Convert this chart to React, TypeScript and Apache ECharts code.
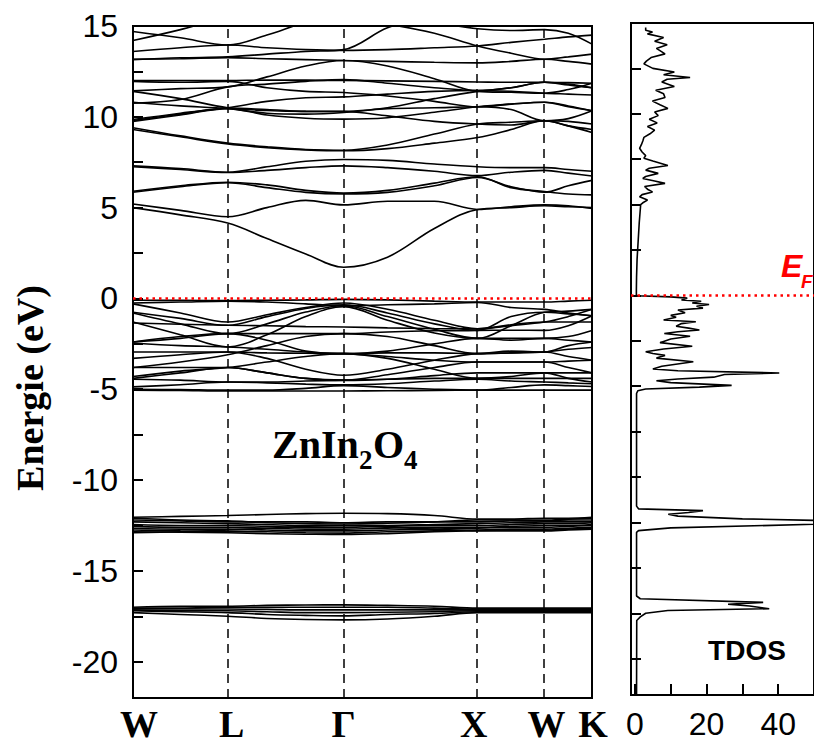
import React, { useEffect, useRef } from 'react';
import * as echarts from 'echarts';

// High-symmetry points along the FCC path (k-distance in units of 2π/a)
const kPoints = [0, 0.707, 1.573, 2.573, 3.073, 3.427];
const kNames = ['W', 'L', 'Γ', 'X', 'W', 'K'];
// k positions at which band energies are tabulated
const kSamples = [0, 0.354, 0.707, 1.0, 1.29, 1.573, 1.9, 2.25, 2.573, 2.823, 3.073, 3.25, 3.427];

// Conduction bands (eV)
const conductionBands = [
  [5.0, 4.6, 4.15, 3.3, 2.45, 1.72, 2.27, 3.85, 4.9, 5.0, 5.1, 5.05, 5.0],
  [5.2, 4.85, 4.5, 5.0, 5.4, 5.15, 5.35, 5.35, 4.9, 5.05, 5.15, 5.1, 4.95],
  [5.85, 6.15, 6.37, 6.1, 5.84, 5.75, 5.84, 6.2, 6.66, 6.15, 5.85, 6.2, 6.5],
  [5.9, 6.2, 6.4, 6.25, 5.95, 5.8, 5.95, 6.35, 6.7, 6.1, 5.88, 5.75, 5.7],
  [7.25, 7.1, 6.93, 7.05, 7.2, 7.3, 7.2, 7.0, 6.76, 6.95, 7.05, 6.9, 6.74],
  [7.3, 7.15, 6.95, 7.25, 7.55, 7.65, 7.6, 7.4, 7.25, 7.2, 7.2, 7.1, 7.0],
  [9.3, 8.9, 8.5, 8.3, 8.18, 8.13, 8.25, 8.55, 8.86, 9.3, 9.78, 9.5, 9.14],
  [9.4, 8.95, 8.55, 8.35, 8.2, 8.16, 8.45, 9.05, 9.6, 9.7, 9.78, 9.75, 9.6],
  [9.75, 10.1, 10.45, 10.1, 9.92, 9.87, 9.95, 10.25, 10.55, 10.7, 10.8, 10.6, 10.33],
  [9.8, 10.15, 10.48, 10.4, 10.3, 10.29, 10.05, 9.75, 9.6, 9.55, 9.78, 9.5, 9.3],
  [9.85, 10.2, 10.5, 10.85, 11.05, 11.1, 11.25, 11.4, 11.45, 11.4, 11.3, 11.25, 11.2],
  [10.8, 10.6, 10.45, 10.2, 10.15, 10.24, 10.5, 11.0, 11.4, 11.6, 11.9, 11.8, 11.6],
  [11.43, 11.55, 11.65, 12.2, 12.8, 13.1, 12.8, 12.1, 11.4, 11.35, 11.3, 11.5, 11.85],
  [12.0, 12.0, 12.0, 12.02, 12.02, 12.0, 11.98, 11.95, 11.92, 11.9, 11.9, 11.88, 11.85],
  [11.95, 11.9, 11.95, 11.6, 11.4, 11.34, 11.15, 10.85, 10.55, 10.7, 10.8, 10.55, 10.33],
  [13.17, 13.2, 13.26, 13.2, 13.15, 13.1, 13.05, 13.0, 12.97, 13.05, 13.17, 13.05, 12.9],
  [13.6, 13.8, 13.95, 13.8, 13.7, 13.66, 13.7, 13.8, 13.9, 14.1, 14.27, 14.4, 14.5],
  [14.2, 14.8, 15.5, 15.8, 15.6, 15.4, 15.1, 14.6, 13.9, 13.5, 13.17, 13.3, 13.45],
  [14.7, 14.35, 13.95, 14.5, 15.2, 15.6, 15.5, 15.2, 14.85, 14.75, 14.8, 14.6, 14.0],
  [13.15, 13.25, 13.3, 13.45, 13.6, 13.7, 14.9, 15.6, 16.0, 16.0, 16.0, 16.0, 16.0],
  [10.75, 10.95, 11.65, 11.8, 11.95, 12.05, 11.85, 11.6, 11.45, 11.6, 11.9, 11.75, 11.6],
  [11.4, 11.0, 10.5, 10.35, 10.3, 10.3, 10.45, 10.5, 10.55, 10.4, 9.78, 9.9, 10.33],
];

// Upper valence bands (O 2p), eV
const valenceBands = [
  [-0.1, -0.1, -0.12, -0.1, -0.08, -0.05, -0.08, -0.15, -0.2, -0.2, -0.2, -0.15, -0.1],
  [-0.3, -0.8, -1.3, -0.9, -0.5, -0.25, -0.6, -1.2, -1.67, -1.5, -1.3, -1.0, -0.6],
  [-0.76, -1.1, -1.48, -1.0, -0.55, -0.35, -0.8, -1.4, -1.76, -1.75, -1.76, -1.5, -0.95],
  [-0.8, -1.4, -1.94, -1.4, -0.75, -0.4, -1.0, -1.7, -2.2, -1.5, -0.76, -0.7, -0.6],
  [-1.3, -2.0, -2.67, -2.0, -1.0, -0.45, -1.2, -1.9, -2.2, -2.2, -2.2, -2.1, -1.76],
  [-1.35, -1.42, -1.48, -1.5, -1.55, -1.57, -1.62, -1.66, -1.67, -1.45, -1.3, -1.3, -1.3],
  [-2.4, -2.1, -1.94, -1.94, -1.94, -1.94, -1.85, -1.78, -1.76, -1.0, -0.76, -0.85, -0.95],
  [-2.45, -2.6, -2.67, -2.8, -2.95, -3.04, -3.0, -3.0, -3.04, -3.0, -2.95, -2.8, -2.7],
  [-2.95, -2.95, -2.95, -3.3, -3.9, -4.23, -3.9, -3.4, -3.04, -3.0, -2.95, -3.2, -3.4],
  [-3.3, -3.1, -2.95, -3.0, -3.02, -3.04, -3.2, -3.4, -3.5, -3.5, -3.5, -3.45, -3.4],
  [-3.8, -3.8, -3.8, -4.1, -4.4, -4.5, -4.2, -3.8, -3.5, -3.5, -3.5, -3.8, -4.1],
  [-4.4, -4.1, -3.8, -4.1, -4.4, -4.52, -4.45, -4.25, -4.1, -4.1, -4.1, -4.1, -4.1],
  [-4.45, -4.5, -4.6, -4.6, -4.55, -4.5, -4.45, -4.4, -4.4, -4.4, -4.4, -4.4, -4.4],
  [-4.87, -4.75, -4.6, -4.65, -4.72, -4.76, -4.7, -4.55, -4.45, -4.55, -4.6, -4.65, -4.7],
  [-5.0, -5.02, -5.05, -5.05, -4.95, -4.8, -4.9, -5.0, -5.05, -4.9, -4.76, -4.8, -4.85],
  [-5.05, -5.07, -5.1, -5.1, -5.1, -5.1, -5.08, -5.07, -5.05, -5.05, -5.05, -5.05, -5.05],
  [-0.25, -0.2, -0.15, -0.2, -0.3, -0.4, -0.35, -0.3, -0.22, -0.5, -0.6, -0.8, -0.95],
  [-2.4, -2.2, -1.94, -2.3, -2.9, -3.04, -2.9, -2.5, -2.2, -2.3, -2.2, -2.3, -2.4],
  [-4.3, -4.0, -3.8, -3.5, -3.2, -3.04, -3.3, -3.9, -4.4, -4.3, -4.1, -4.4, -4.6],
  [-3.8, -3.5, -3.1, -2.6, -2.1, -1.94, -2.1, -2.6, -3.04, -2.9, -2.95, -2.6, -2.4],
];

// Zn 3d bands, eV
const zincDBands = [
  [-12.05, -12.0, -11.95, -11.9, -11.85, -11.83, -11.85, -11.95, -12.15, -12.15, -12.1, -12.1, -12.05],
  [-12.1, -12.2, -12.25, -12.35, -12.4, -12.42, -12.38, -12.3, -12.2, -12.2, -12.2, -12.15, -12.1],
  [-12.2, -12.25, -12.3, -12.3, -12.3, -12.35, -12.3, -12.3, -12.3, -12.25, -12.25, -12.2, -12.2],
  [-12.3, -12.35, -12.4, -12.45, -12.5, -12.5, -12.5, -12.45, -12.4, -12.35, -12.3, -12.3, -12.3],
  [-12.45, -12.5, -12.5, -12.55, -12.6, -12.6, -12.55, -12.5, -12.5, -12.45, -12.4, -12.4, -12.35],
  [-12.55, -12.6, -12.6, -12.65, -12.7, -12.7, -12.65, -12.6, -12.6, -12.55, -12.5, -12.5, -12.45],
  [-12.65, -12.7, -12.7, -12.75, -12.8, -12.8, -12.75, -12.7, -12.65, -12.6, -12.6, -12.55, -12.5],
  [-12.75, -12.8, -12.82, -12.85, -12.9, -12.92, -12.85, -12.8, -12.75, -12.7, -12.7, -12.65, -12.6],
  [-12.85, -12.87, -12.9, -12.95, -12.98, -13.0, -12.95, -12.85, -12.78, -12.75, -12.75, -12.7, -12.65],
  [-12.9, -12.85, -12.75, -12.65, -12.55, -12.5, -12.6, -12.7, -12.8, -12.8, -12.8, -12.75, -12.7],
];

// O 2s bands, eV
const oxygenSBands = [
  [-17.0, -16.95, -16.95, -16.9, -16.88, -16.87, -16.9, -16.95, -17.05, -17.05, -17.05, -17.05, -17.05],
  [-17.05, -17.05, -17.0, -17.0, -17.0, -17.0, -17.0, -17.05, -17.1, -17.1, -17.1, -17.1, -17.1],
  [-17.1, -17.1, -17.1, -17.12, -17.15, -17.15, -17.15, -17.15, -17.15, -17.15, -17.15, -17.15, -17.15],
  [-17.15, -17.2, -17.2, -17.25, -17.3, -17.3, -17.28, -17.25, -17.2, -17.2, -17.2, -17.2, -17.2],
  [-17.2, -17.25, -17.3, -17.4, -17.45, -17.48, -17.4, -17.35, -17.25, -17.25, -17.25, -17.25, -17.25],
  [-17.3, -17.4, -17.5, -17.62, -17.68, -17.7, -17.65, -17.5, -17.3, -17.3, -17.3, -17.3, -17.3],
];

// Axis ticks
const energyLabels = [-20, -15, -10, -5, 0, 5, 10, 15];
const energyTicks = [-20, -17.5, -15, -12.5, -10, -7.5, -5, -2.5, 0, 2.5, 5, 7.5, 10, 12.5, 15];
const dosLabels = [0, 20, 40];
const dosTicks = [0, 10, 20, 30, 40];

// Total density of states: energy (eV) and states/eV
const dosEnergy = [
  14.75, 14.6, 14.5, 14.4, 14.2, 14.0, 13.8, 13.6, 13.3, 13.1,
  12.9, 12.75, 12.5, 12.3, 12.15, 12.0, 11.9, 11.75, 11.5, 11.3,
  11.1, 10.9, 10.7, 10.5, 10.3, 10.1, 9.9, 9.7, 9.5, 9.3,
  9.1, 8.9, 8.7, 8.5, 8.3, 8.1, 7.9, 7.7, 7.55, 7.4,
  7.15, 7.0, 6.9, 6.72, 6.55, 6.44, 6.3, 6.17, 6.0, 5.85,
  5.7, 5.55, 5.43, 5.25, 5.1, 5.0, 4.5, 4.0, 3.0, 2.0,
  1.0, 0.3, 0.02, -0.02, -0.08, -0.15, -0.25, -0.32, -0.42, -0.5,
  -0.6, -0.7, -0.8, -0.95, -1.1, -1.2, -1.35, -1.45, -1.55, -1.7,
  -1.8, -1.9, -2.0, -2.1, -2.25, -2.4, -2.6, -2.8, -2.95, -3.1,
  -3.2, -3.3, -3.45, -3.65, -3.9, -4.05, -4.15, -4.27, -4.35, -4.5,
  -4.6, -4.7, -4.8, -4.95, -5.05, -5.15, -5.25, -5.4, -11.6, -11.75,
  -11.85, -11.95, -12.05, -12.15, -12.3, -12.45, -12.6, -12.8, -12.95, -13.05,
  -16.55, -16.7, -16.9, -17.0, -17.1, -17.25, -17.35, -17.5, -17.7, -17.9, -22,
];
const dosTotal = [
  3.0, 3.0, 4.9, 3.5, 8.0, 5.5, 9.0, 6.0, 8.4, 4.5,
  3.2, 2.5, 5.0, 11.0, 8.0, 15.4, 9.0, 7.5, 11.0, 5.8,
  8.0, 8.4, 4.9, 7.0, 9.2, 5.5, 6.5, 4.0, 6.2, 3.5,
  5.5, 4.2, 2.5, 2.2, 1.8, 1.3, 2.0, 3.0, 2.5, 5.0,
  9.2, 4.0, 3.0, 6.5, 3.0, 2.2, 5.5, 8.4, 2.7, 3.5,
  4.9, 2.0, 1.3, 3.5, 2.2, 1.6, 1.4, 1.2, 0.9, 0.6,
  0.45, 0.4, 0.4, 0.5, 10, 14.6, 13, 18.5, 16, 20.7,
  17.2, 19, 12, 14, 10, 11.5, 8, 17, 13, 11.5,
  15, 18, 12, 8.2, 15.4, 10, 7, 16, 8, 3,
  5, 8.4, 6, 16.3, 7.5, 5, 12, 40.3, 25, 22,
  12, 6, 10, 27, 18, 3, 0.8, 0.45, 0.45, 1,
  19, 15, 9.3, 12, 30, 65, 50, 10, 1, 0.45,
  0.45, 1.5, 35.8, 26, 32, 37.5, 9.2, 3, 1.5, 0.5, 0.45,
];

const SANS = 'Liberation Sans';
const SERIF = 'Liberation Serif';

// DOS axis range; the panel runs slightly past the right edge of the canvas
const DOS_MIN = -1.1;
const DOS_MAX = 50;
const DOS_PX_PER_UNIT = 3.775;

function kIndex(v: number): number {
  let best = 0;
  for (let i = 1; i < kPoints.length; i++) {
    if (Math.abs(kPoints[i] - v) < Math.abs(kPoints[best] - v)) best = i;
  }
  return best;
}

// small horizontal nudges for the path labels
const kLabelRich: Record<string, any> = {
  p0: { padding: [0, 0, 0, 12] },
  p1: { padding: [0, 0, 0, 8] },
  p2: {},
  p3: { padding: [0, 8, 0, 0] },
  p4: { padding: [0, 0, 0, 4] },
  p5: { padding: [0, 0, 0, 2] },
};

function buildOption() {
  const allBands = [...conductionBands, ...valenceBands, ...zincDBands, ...oxygenSBands];
  const bandSeries = allBands.map((band) => ({
    type: 'line',
    xAxisIndex: 0,
    yAxisIndex: 0,
    data: band.map((e, i) => [kSamples[i], e]),
    smooth: 0.35,
    showSymbol: false,
    silent: true,
    clip: true,
    z: 3,
    lineStyle: { color: '#000', width: 1.6 },
  }));

  const tickStyle = { color: '#000', width: 2 };
  const labelFont = { fontFamily: SERIF, fontWeight: 'bold', fontSize: 38, color: '#000', lineHeight: 34 };
  const rich: Record<string, any> = {};
  Object.keys(kLabelRich).forEach((key) => {
    rich[key] = { ...labelFont, ...kLabelRich[key] };
  });

  const energyAxis = (gridIndex: number, labels: boolean) => ({
    gridIndex, type: 'value', min: -22, max: 15, position: 'left',
    axisLine: { show: false, onZero: false }, splitLine: { show: false },
    axisTick: { inside: true, customValues: energyTicks, length: 10, lineStyle: tickStyle },
    axisLabel: labels
      ? { customValues: energyLabels, fontFamily: SANS, fontSize: 32, color: '#000', margin: 15 }
      : { show: false },
  });

  const dosWidth = (DOS_MAX - DOS_MIN) * DOS_PX_PER_UNIT;

  return {
    animation: false,
    backgroundColor: '#fff',
    grid: [
      { left: 133, top: 26, width: 459, height: 672, show: true, borderColor: '#000', borderWidth: 2 },
      { left: 631, top: 23, width: dosWidth, height: 672, show: true, borderColor: '#000', borderWidth: 2 },
    ],
    xAxis: [
      {
        gridIndex: 0, type: 'value', min: 0, max: kPoints[kPoints.length - 1], position: 'bottom',
        axisLine: { show: false, onZero: false }, axisTick: { show: false }, splitLine: { show: false },
        axisLabel: {
          customValues: kPoints,
          formatter: (v: number) => {
            const i = kIndex(v);
            return `{p${i}|${kNames[i]}}`;
          },
          ...labelFont, margin: 9, rich,
        },
      },
      {
        gridIndex: 1, type: 'value', min: DOS_MIN, max: DOS_MAX, position: 'bottom',
        axisLine: { show: false, onZero: false }, splitLine: { show: false },
        axisTick: { inside: true, customValues: dosTicks, length: 11, lineStyle: tickStyle },
        axisLabel: { customValues: dosLabels, fontFamily: SANS, fontSize: 32, color: '#000', margin: 14, lineHeight: 30 },
      },
    ],
    yAxis: [energyAxis(0, true), energyAxis(1, false)],
    series: [
      // dashed guides at the interior high-symmetry points
      {
        type: 'line', xAxisIndex: 0, yAxisIndex: 0, data: [[0, 0]], showSymbol: false, silent: true, z: 2,
        lineStyle: { opacity: 0 },
        markLine: {
          symbol: 'none', silent: true, label: { show: false },
          lineStyle: { color: '#000', type: [9, 6], width: 1.5 },
          data: kPoints.slice(1, kPoints.length - 1).map((k) => ({ xAxis: k })),
        },
      },
      ...bandSeries,
      // Fermi level in the band panel
      {
        type: 'line', xAxisIndex: 0, yAxisIndex: 0, data: [[0, 0]], showSymbol: false, silent: true, z: 6,
        lineStyle: { opacity: 0 },
        markLine: {
          symbol: 'none', silent: true, label: { show: false },
          lineStyle: { color: '#ff0000', type: [2.5, 4], width: 2.5 },
          data: [{ yAxis: 0 }],
        },
      },
      // total DOS
      {
        type: 'line', xAxisIndex: 1, yAxisIndex: 1,
        data: dosEnergy.map((e, i) => [dosTotal[i], e]),
        showSymbol: false, silent: true, clip: true, z: 3,
        lineStyle: { color: '#000', width: 1.6 },
      },
      // Fermi level in the DOS panel
      {
        type: 'line', xAxisIndex: 1, yAxisIndex: 1, data: [[0, 0]], showSymbol: false, silent: true, z: 6,
        lineStyle: { opacity: 0 },
        markLine: {
          symbol: 'none', silent: true, label: { show: false },
          lineStyle: { color: '#ff0000', type: [2.5, 4], width: 2.5 },
          data: [{ yAxis: 0 }],
        },
      },
    ],
    graphic: [
      {
        type: 'text', x: 30, y: 388, rotation: Math.PI / 2, silent: true,
        style: {
          text: 'Energie (eV)', fontFamily: SERIF, fontWeight: 'bold', fontSize: 38, fill: '#000',
          align: 'center', verticalAlign: 'middle',
        },
      },
      // compound name with subscripts
      {
        type: 'group', silent: true, z: 10,
        children: [
          { type: 'text', x: 272, y: 444, style: { text: 'ZnIn', fontFamily: SERIF, fontWeight: 'bold', fontSize: 40, fill: '#000', align: 'left', verticalAlign: 'middle' } },
          { type: 'text', x: 359, y: 460, style: { text: '2', fontFamily: SERIF, fontWeight: 'bold', fontSize: 27, fill: '#000', align: 'left', verticalAlign: 'middle' } },
          { type: 'text', x: 373, y: 444, style: { text: 'O', fontFamily: SERIF, fontWeight: 'bold', fontSize: 40, fill: '#000', align: 'left', verticalAlign: 'middle' } },
          { type: 'text', x: 404, y: 460, style: { text: '4', fontFamily: SERIF, fontWeight: 'bold', fontSize: 27, fill: '#000', align: 'left', verticalAlign: 'middle' } },
        ],
      },
      {
        type: 'text', x: 747, y: 650, silent: true, z: 10,
        style: {
          text: 'TDOS', fontFamily: SANS, fontWeight: 'bold', fontSize: 28, fill: '#000',
          align: 'center', verticalAlign: 'middle',
        },
      },
      // Fermi level label
      {
        type: 'group', silent: true, z: 10,
        children: [
          { type: 'text', x: 781, y: 266, style: { text: 'E', fontFamily: SANS, fontWeight: 'bold', fontStyle: 'italic', fontSize: 32, fill: '#ff0000', align: 'left', verticalAlign: 'middle' } },
          { type: 'text', x: 801, y: 281, style: { text: 'F', fontFamily: SANS, fontWeight: 'bold', fontStyle: 'italic', fontSize: 19, fill: '#ff0000', align: 'left', verticalAlign: 'middle' } },
        ],
      },
    ],
  };
}

export default function App() {
  const ref = useRef<HTMLDivElement>(null);
  useEffect(() => {
    if (!ref.current) return;
    const chart = echarts.init(ref.current, undefined, { renderer: 'svg' });
    chart.setOption(buildOption() as any);
    return () => chart.dispose();
  }, []);
  return (
    <div
      ref={ref}
      style={{ position: 'fixed', left: 0, top: 0, width: 814, height: 744, background: '#fff' }}
    />
  );
}
